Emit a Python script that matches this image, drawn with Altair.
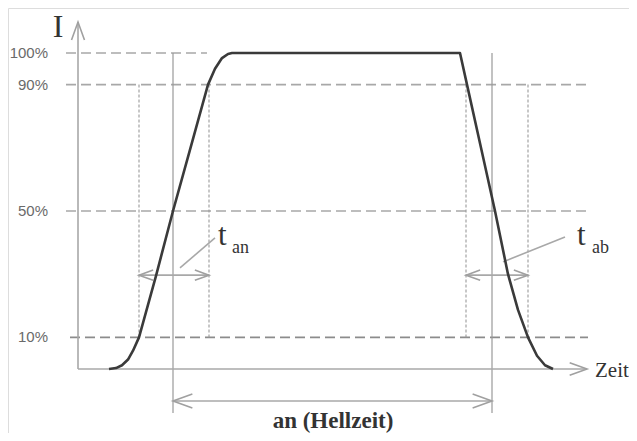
import altair as alt
import pandas as pd

# ---- data (time units along x, intensity in % along y) ----
curve_t = [31, 38, 44, 50, 55, 61, 78, 95, 113, 130, 137, 144, 150, 154,
           382, 389, 403, 417, 430, 440, 450, 459, 467, 475]
curve_v = [0, 0.3, 1.2, 3, 5.8, 10, 29.5, 50, 70.5, 90, 95, 98.4, 99.7, 100,
           100, 90, 70, 50, 30, 18.7, 10, 4.2, 1.2, 0]

level_v = [100, 90, 50, 10]
level_t0 = [-12, -12, -12, -8]
level_t1 = [129, 510, 510, 510]
level_lab = ["100%", "90%", "50%", "10%"]
level_col = ["#a8a8a8", "#a8a8a8", "#a8a8a8", "#8c8c8c"]

solid_t = [95, 414]          # on / off marks (50 % crossing)
solid_v0, solid_v1 = -13.9, 100
dotted_t = [61, 131, 388, 450]  # 10 % / 90 % crossings
dotted_v0, dotted_v1 = 10, 90

# line segments: axes, double arrows, bottom arrow, leader lines
seg_t0 = [0, 0, 61, 388, 95, 102, 425]
seg_t1 = [0, 509, 131, 450, 414, 137, 487]
seg_v0 = [0, 0, 29.7, 29.7, -10.1, 32, 33.9]
seg_v1 = [109.8, 0, 29.7, 29.7, -10.1, 41.5, 41.8]

# arrow heads
head_t = [0, 509, 61, 131, 388, 450, 95, 414]
head_v = [109.8, 0, 29.7, 29.7, 29.7, 29.7, -10.1, -10.1]
head_ang = [270, 0, 180, 0, 180, 0, 180, 0]
head_size = [1300, 1200, 800, 800, 800, 800, 1500, 1500]

# texts
txt = ["I", "t", "an", "t", "ab", "Zeit", "an (Hellzeit)"]
txt_t = [-20, 140, 154, 499, 514, 517, 255]
txt_v = [105.0, 39.2, 36.7, 39.2, 36.7, -2.6, -18.6]
txt_size = [32, 31, 18, 31, 18, 21, 23]
txt_align = ["center", "left", "left", "left", "left", "left", "center"]
txt_weight = ["normal", "normal", "normal", "normal", "normal", "normal", "bold"]

# ---- scales ----
xs = alt.Scale(domain=[-70, 551], nice=False, zero=False)
ys = alt.Scale(domain=[-20.25, 114.24], nice=False, zero=False)


def X(f):
    return alt.X(f, type="quantitative", scale=xs, axis=None)


def Y(f):
    return alt.Y(f, type="quantitative", scale=ys, axis=None)


levels = pd.DataFrame({"v": level_v, "t0": level_t0, "t1": level_t1,
                       "lab": level_lab, "col": level_col})
level_rules = alt.Chart(levels).mark_rule(strokeDash=[10, 5], strokeWidth=1.6).encode(
    x=X("t0"), x2="t1", y=Y("v"), color=alt.Color("col:N", scale=None))
level_text = alt.Chart(levels).mark_text(
    align="right", baseline="middle", font="Liberation Sans", fontSize=15,
    color="#6a6a6a").encode(x=alt.value(40), y=Y("v"), text="lab:N")

solid = pd.DataFrame({"t": solid_t, "v0": solid_v0, "v1": solid_v1})
solid_rules = alt.Chart(solid).mark_rule(color="#999999", strokeWidth=1.2).encode(
    x=X("t"), y=Y("v0"), y2="v1")

dotted = pd.DataFrame({"t": dotted_t, "v0": dotted_v0, "v1": dotted_v1})
dotted_rules = alt.Chart(dotted).mark_rule(color="#9a9a9a", strokeWidth=1.1,
                                           strokeDash=[3, 2]).encode(
    x=X("t"), y=Y("v0"), y2="v1")

segs = pd.DataFrame({"t0": seg_t0, "t1": seg_t1, "v0": seg_v0, "v1": seg_v1})
seg_rules = alt.Chart(segs).mark_rule(color="#a8a8a8", strokeWidth=1.6).encode(
    x=X("t0"), x2="t1", y=Y("v0"), y2="v1")

heads = pd.DataFrame({"t": head_t, "v": head_v, "ang": head_ang, "sz": head_size})
head_marks = alt.Chart(heads).mark_point(
    shape="M-1,-0.36L0,0L-1,0.36", filled=False, color="#a0a0a0",
    strokeWidth=1.6, opacity=1).encode(
    x=X("t"), y=Y("v"),
    angle=alt.Angle("ang:Q", scale=None),
    size=alt.Size("sz:Q", scale=None))

curve = pd.DataFrame({"t": curve_t, "v": curve_v, "o": list(range(len(curve_t)))})
curve_line = alt.Chart(curve).mark_line(color="#3a3a3a", strokeWidth=2.6,
                                        strokeJoin="round").encode(
    x=X("t"), y=Y("v"), order="o:Q")

texts = pd.DataFrame({"s": txt, "t": txt_t, "v": txt_v, "fs": txt_size,
                      "al": txt_align, "w": txt_weight})
text_layers = []
for al in ["left", "center"]:
    for w in ["normal", "bold"]:
        sub = texts[(texts["al"] == al) & (texts["w"] == w)]
        if len(sub) == 0:
            continue
        text_layers.append(
            alt.Chart(sub).mark_text(
                align=al, baseline="alphabetic", font="Liberation Serif",
                fontWeight=w, color="#333333").encode(
                x=X("t"), y=Y("v"), text="s:N",
                size=alt.Size("fs:Q", scale=None)))

chart = alt.layer(
    level_rules, dotted_rules, solid_rules, seg_rules, head_marks,
    curve_line, level_text, *text_layers
).properties(
    width=621, height=425, padding=0,
    autosize=alt.AutoSizeParams(type="none")
).configure_view(stroke=None).configure(background="white")

chart.save("out.html", embed_options={"renderer": "svg", "actions": False})
